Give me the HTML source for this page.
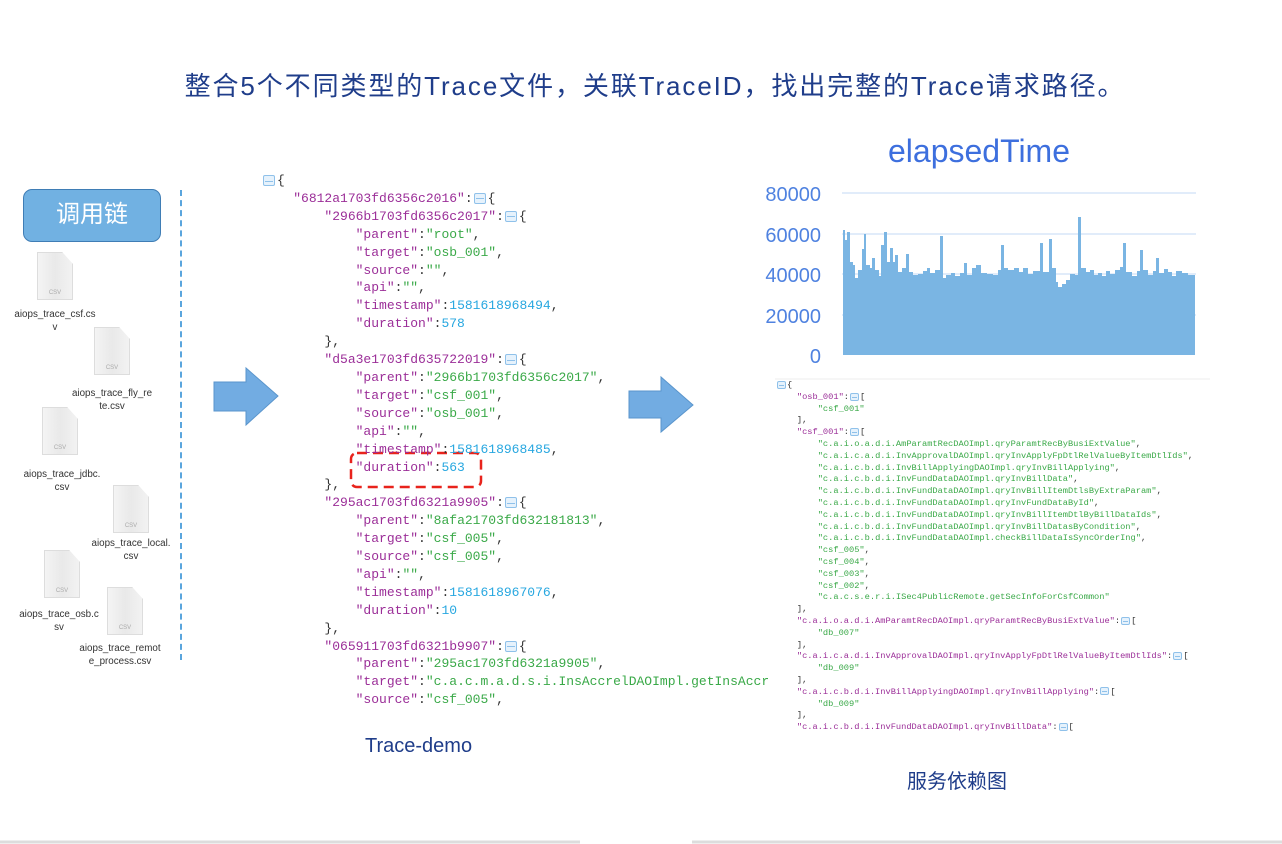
<!DOCTYPE html>
<html><head><meta charset="utf-8"><style>
body{margin:0;width:1282px;height:844px;background:#fff;position:relative;overflow:hidden;font-family:"Liberation Sans","Noto Sans CJK SC",sans-serif}
.abs{position:absolute}
.t{color:#1f3d8a}
pre{margin:0;font-family:"Liberation Mono",monospace;color:#333;position:absolute;overflow:hidden;white-space:pre}
.k{color:#9b2e98}.s{color:#3aa948}.n{color:#27a7e0}
.ic{display:inline-block;box-sizing:border-box;border:1px solid #8fc1ea;background:#e6f2fc;border-radius:2px;position:relative;vertical-align:middle}
.ic:after{content:"";position:absolute;left:1px;right:1px;top:50%;height:1px;background:#8fc1ea}
#L{left:262px;top:172px;width:506px;height:540px;font-size:13px;line-height:17.9px}
#L .ic{width:12px;height:11px;margin:0 2px 0 1px}
#R{left:776px;top:380px;width:440px;height:360px;font-size:8.7px;line-height:11.8px}
#R .ic{width:9px;height:8px;margin:0 1px}
.doc{position:absolute;width:34px;height:46px;background:linear-gradient(90deg,#f4f4f4,#e9e9e9 50%,#f2f2f2);border:1px solid #ddd;clip-path:polygon(0 0,70% 0,100% 25%,100% 100%,0 100%);}
.doc:after{content:"CSV";position:absolute;bottom:3px;width:100%;text-align:center;font-size:6px;color:#aaa}
.lbl{position:absolute;font-size:9.8px;color:#333;text-align:center;line-height:13px;width:110px}
</style></head><body>
<div class="abs t" style="left:0;width:1310px;top:66px;text-align:center;font-size:26px;letter-spacing:1.9px;white-space:nowrap">整合5个不同类型的Trace文件，关联TraceID，找出完整的Trace请求路径。</div>

<div class="abs" style="left:23px;top:189px;width:138px;height:53px;box-sizing:border-box;background:#71b1e2;border:1.5px solid #3f7db5;border-radius:9px;color:#fff;font-size:24px;text-align:center;line-height:50px">调用链</div>
<div class="abs" style="left:180px;top:190px;height:470px;border-left:2px dashed #5aa5dd"></div>

<div class="doc" style="left:37px;top:252px"></div><div class="lbl" style="left:0;top:308px">aiops_trace_csf.cs<br>v</div>
<div class="doc" style="left:94px;top:327px"></div><div class="lbl" style="left:57px;top:387px">aiops_trace_fly_re<br>te.csv</div>
<div class="doc" style="left:42px;top:407px"></div><div class="lbl" style="left:7px;top:468px">aiops_trace_jdbc.<br>csv</div>
<div class="doc" style="left:113px;top:485px"></div><div class="lbl" style="left:76px;top:537px">aiops_trace_local.<br>csv</div>
<div class="doc" style="left:44px;top:550px"></div><div class="lbl" style="left:4px;top:608px">aiops_trace_osb.c<br>sv</div>
<div class="doc" style="left:107px;top:587px"></div><div class="lbl" style="left:65px;top:642px">aiops_trace_remot<br>e_process.csv</div>

<svg class="abs" style="left:0;top:0" width="1282" height="844">
<polygon points="214,382 246,382 246,368 278,396 246,425 246,411 214,411" fill="#72ace2" stroke="#5a95cc"/>
<polygon points="629,391 661,391 661,377 693,405 661,432 661,418 629,418" fill="#72ace2" stroke="#5a95cc"/>
<g stroke="#cfe0f7" stroke-width="1.2"><line x1="842" y1="193" x2="1196" y2="193"/><line x1="842" y1="234" x2="1196" y2="234"/><line x1="842" y1="274" x2="1196" y2="274"/><line x1="842" y1="315" x2="1196" y2="315"/></g>
<path fill="#7ab5e3" d="M843,355 V230 H845 V240 H847 V232 H850 V262 H853 V265 H855 V278 H858 V270 H862 V249 H864 V234 H866 V265 H870 V268 H872 V258 H875 V270 H879 V276 H881 V245 H884 V232 H887 V262 H890 V248 H893 V262 H895 V255 H898 V272 H902 V268 H906 V254 H909 V272 H913 V275 H918 V274 H923 V271 H927 V268 H930 V273 H935 V270 H940 V236 H943 V278 H946 V275 H951 V273 H955 V276 H960 V273 H964 V263 H967 V275 H972 V268 H976 V265 H981 V273 H987 V274 H993 V275 H998 V270 H1001 V245 H1004 V268 H1008 V270 H1014 V268 H1019 V272 H1023 V268 H1028 V274 H1033 V271 H1040 V243 H1043 V272 H1049 V239 H1052 V268 H1056 V282 H1058 V287 H1062 V284 H1066 V280 H1070 V274 H1075 V275 H1078 V217 H1081 V268 H1086 V272 H1090 V270 H1094 V275 H1098 V273 H1102 V276 H1106 V271 H1110 V274 H1115 V270 H1120 V267 H1123 V243 H1126 V272 H1132 V276 H1137 V271 H1140 V250 H1143 V270 H1148 V275 H1153 V271 H1156 V258 H1159 V273 H1164 V269 H1168 V272 H1172 V276 H1176 V271 H1182 V273 H1188 V275 H1195 V274 V355 Z"/>
<g fill="#4f82e0" font-family="Liberation Sans,sans-serif" font-size="20" text-anchor="end"><text x="821" y="201">80000</text><text x="821" y="242">60000</text><text x="821" y="282">40000</text><text x="821" y="323">20000</text><text x="821" y="363">0</text></g>
<text x="979" y="162" fill="#3d6fde" font-family="Liberation Sans,sans-serif" font-size="32" text-anchor="middle">elapsedTime</text>
<line x1="775" y1="379" x2="1210" y2="379" stroke="#eee"/>
<rect x="351" y="453" width="130" height="34" rx="6" fill="none" stroke="#e8231c" stroke-width="2.5" stroke-dasharray="10,6"/>
<line x1="0" y1="842" x2="580" y2="842" stroke="#ddd" stroke-width="3"/>
<line x1="692" y1="842" x2="1282" y2="842" stroke="#ddd" stroke-width="3"/>
</svg>

<pre id="L"><span class="ic"></span>{
    <span class="k">"6812a1703fd6356c2016"</span>:<span class="ic"></span>{
        <span class="k">"2966b1703fd6356c2017"</span>:<span class="ic"></span>{
            <span class="k">"parent"</span>:<span class="s">"root"</span>,
            <span class="k">"target"</span>:<span class="s">"osb_001"</span>,
            <span class="k">"source"</span>:<span class="s">""</span>,
            <span class="k">"api"</span>:<span class="s">""</span>,
            <span class="k">"timestamp"</span>:<span class="n">1581618968494</span>,
            <span class="k">"duration"</span>:<span class="n">578</span>
        },
        <span class="k">"d5a3e1703fd635722019"</span>:<span class="ic"></span>{
            <span class="k">"parent"</span>:<span class="s">"2966b1703fd6356c2017"</span>,
            <span class="k">"target"</span>:<span class="s">"csf_001"</span>,
            <span class="k">"source"</span>:<span class="s">"osb_001"</span>,
            <span class="k">"api"</span>:<span class="s">""</span>,
            <span class="k">"timestamp"</span>:<span class="n">1581618968485</span>,
            <span class="k">"duration"</span>:<span class="n">563</span>
        },
        <span class="k">"295ac1703fd6321a9905"</span>:<span class="ic"></span>{
            <span class="k">"parent"</span>:<span class="s">"8afa21703fd632181813"</span>,
            <span class="k">"target"</span>:<span class="s">"csf_005"</span>,
            <span class="k">"source"</span>:<span class="s">"csf_005"</span>,
            <span class="k">"api"</span>:<span class="s">""</span>,
            <span class="k">"timestamp"</span>:<span class="n">1581618967076</span>,
            <span class="k">"duration"</span>:<span class="n">10</span>
        },
        <span class="k">"065911703fd6321b9907"</span>:<span class="ic"></span>{
            <span class="k">"parent"</span>:<span class="s">"295ac1703fd6321a9905"</span>,
            <span class="k">"target"</span>:<span class="s">"c.a.c.m.a.d.s.i.InsAccrelDAOImpl.getInsAccrel"</span>,
            <span class="k">"source"</span>:<span class="s">"csf_005"</span>,</pre>

<pre id="R"><span class="ic"></span>{
    <span class="k">"osb_001"</span>:<span class="ic"></span>[
        <span class="s">"csf_001"</span>
    ],
    <span class="k">"csf_001"</span>:<span class="ic"></span>[
        <span class="s">"c.a.i.o.a.d.i.AmParamtRecDAOImpl.qryParamtRecByBusiExtValue"</span>,
        <span class="s">"c.a.i.c.a.d.i.InvApprovalDAOImpl.qryInvApplyFpDtlRelValueByItemDtlIds"</span>,
        <span class="s">"c.a.i.c.b.d.i.InvBillApplyingDAOImpl.qryInvBillApplying"</span>,
        <span class="s">"c.a.i.c.b.d.i.InvFundDataDAOImpl.qryInvBillData"</span>,
        <span class="s">"c.a.i.c.b.d.i.InvFundDataDAOImpl.qryInvBillItemDtlsByExtraParam"</span>,
        <span class="s">"c.a.i.c.b.d.i.InvFundDataDAOImpl.qryInvFundDataById"</span>,
        <span class="s">"c.a.i.c.b.d.i.InvFundDataDAOImpl.qryInvBillItemDtlByBillDataIds"</span>,
        <span class="s">"c.a.i.c.b.d.i.InvFundDataDAOImpl.qryInvBillDatasByCondition"</span>,
        <span class="s">"c.a.i.c.b.d.i.InvFundDataDAOImpl.checkBillDataIsSyncOrderIng"</span>,
        <span class="s">"csf_005"</span>,
        <span class="s">"csf_004"</span>,
        <span class="s">"csf_003"</span>,
        <span class="s">"csf_002"</span>,
        <span class="s">"c.a.c.s.e.r.i.ISec4PublicRemote.getSecInfoForCsfCommon"</span>
    ],
    <span class="k">"c.a.i.o.a.d.i.AmParamtRecDAOImpl.qryParamtRecByBusiExtValue"</span>:<span class="ic"></span>[
        <span class="s">"db_007"</span>
    ],
    <span class="k">"c.a.i.c.a.d.i.InvApprovalDAOImpl.qryInvApplyFpDtlRelValueByItemDtlIds"</span>:<span class="ic"></span>[
        <span class="s">"db_009"</span>
    ],
    <span class="k">"c.a.i.c.b.d.i.InvBillApplyingDAOImpl.qryInvBillApplying"</span>:<span class="ic"></span>[
        <span class="s">"db_009"</span>
    ],
    <span class="k">"c.a.i.c.b.d.i.InvFundDataDAOImpl.qryInvBillData"</span>:<span class="ic"></span>[</pre>

<div class="abs t" style="left:365px;top:735px;font-size:20px">Trace-demo</div>
<div class="abs t" style="left:907px;top:765px;font-size:20px">服务依赖图</div>
</body></html>
